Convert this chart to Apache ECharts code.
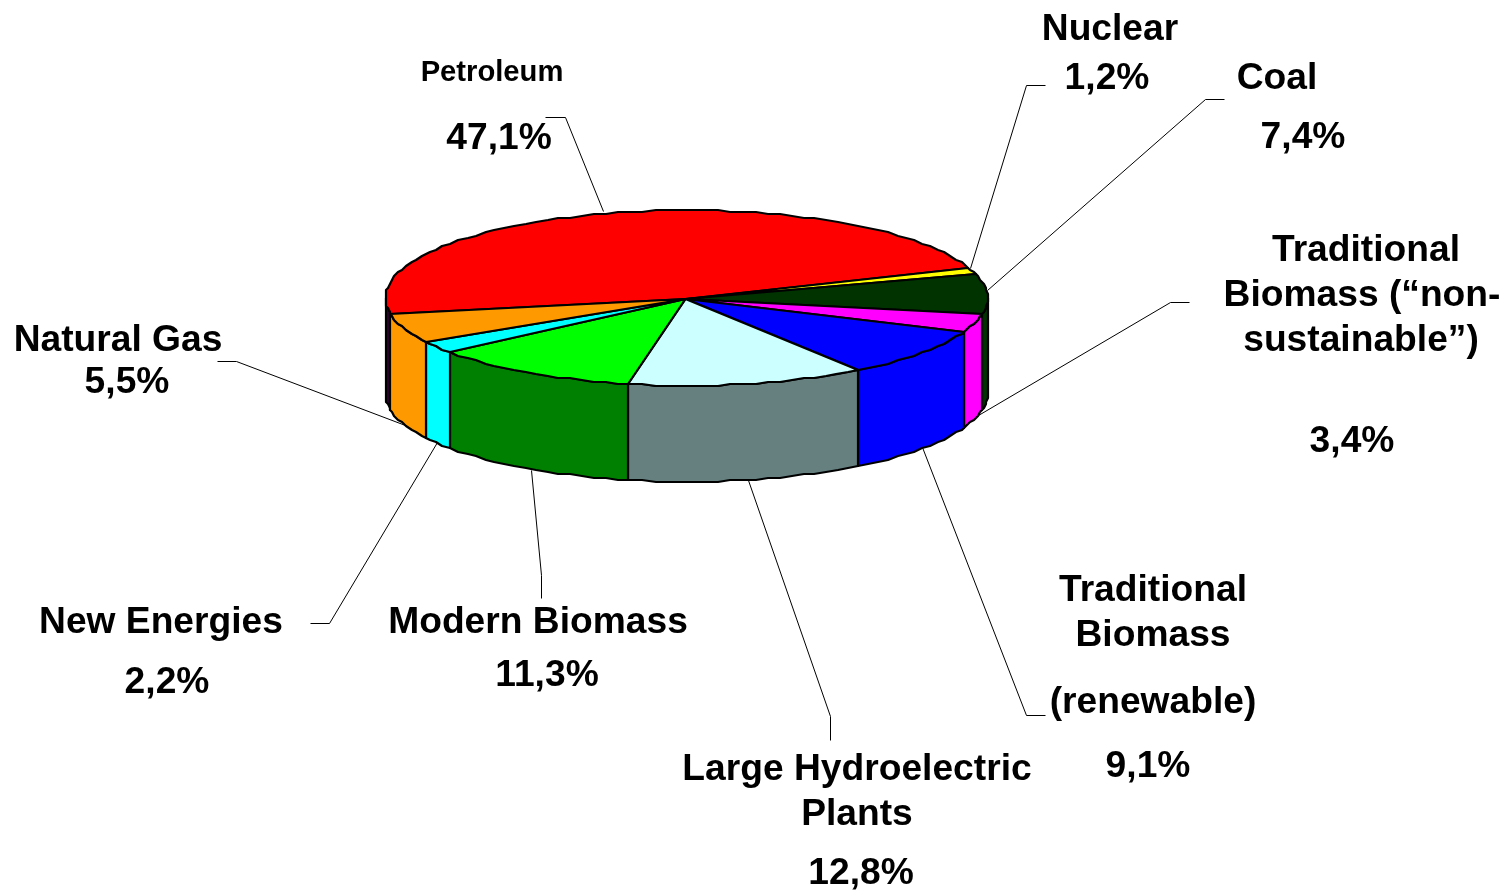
<!DOCTYPE html>
<html><head><meta charset="utf-8">
<style>html,body{margin:0;padding:0;background:#fff}#c{width:1506px;height:890px}</style>
<script src="https://cdn.jsdelivr.net/npm/echarts@6/dist/echarts.min.js"></script>
</head><body><div id="c"></div>
<script>
const categories = ['Petroleum','Nuclear','Coal','Traditional Biomass ("non-sustainable")','Traditional Biomass (renewable)','Large Hydroelectric Plants','Modern Biomass','New Energies','Natural Gas'];
const shares = [47.1,1.2,7.4,3.4,9.1,12.8,11.3,2.2,5.5];
const topColors = ['#FF0000','#FFFF00','#003300','#FF00FF','#0000FF','#CCFFFF','#00FF00','#00FFFF','#FF9900'];
const sideColors = ['#330033','#FFFF00','#003300','#FF00FF','#0000FF','#668080','#008000','#00FFFF','#FF9900'];
const labelLines = [
 ['Petroleum','47,1%'],['Nuclear','1,2%'],['Coal','7,4%'],
 ['Traditional','Biomass (“non-','sustainable”)','3,4%'],
 ['Traditional','Biomass','(renewable)','9,1%'],
 ['Large Hydroelectric','Plants','12,8%'],
 ['Modern Biomass','11,3%'],['New Energies','2,2%'],['Natural Gas','5,5%']
];
// layout only
const PIE = {cx:686.5, cy:298, rx:301, ry:87.5, depth:96, start:169.8, step:2.4, grid:2};
const labelPos = [
 [[492,73],[499,139]],[[1110,30],[1107,79]],[[1277,79],[1303,138]],
 [[1366,251],[1362,296],[1361,341],[1352,442]],
 [[1153,591],[1153,636],[1153,703],[1148,767]],
 [[857,770],[857,815],[861,874]],
 [[538,623],[547,676]],[[161,623],[167,683]],[[118,341],[127,383]]
];
const leaders = [
 [[603,211],[565,117],[545,117]],[[970,268],[1026,85],[1045,85]],[[987,290],[1205,99],[1224,99]],
 [[978,415],[1170,302],[1189,302]],[[922,447],[1026,715],[1045,715]],[[748,480],[830,716],[830,740]],
 [[531,470],[541,575],[541,598]],[[437,442],[329,623],[310,623]],[[405,425],[236,361],[217,361]]
];
const total = shares.reduce((a,b)=>a+b,0);
let acc = PIE.start;
const spans = shares.map(v=>{const s=acc; acc+=v/total*360; return [s,acc];});
const rows = spans.map((s,i)=>[s[0],s[1],i]);
function pt(deg,dz){
  const t=deg*Math.PI/180, g=PIE.grid;
  const x=PIE.cx+PIE.rx*Math.cos(t), y=PIE.cy+PIE.ry*Math.sin(t);
  return [Math.round(x/g)*g, Math.round(y/g)*g+dz];
}
function arcAngles(a,b){
  const out=[a];
  let k=Math.ceil(a/PIE.step+1e-6);
  while(k*PIE.step<b-1e-6){out.push(k*PIE.step);k++;}
  out.push(b);
  return out;
}
function renderTop(params,api){
  const a=api.value(0), b=api.value(1), i=api.value(2);
  const pts=[[PIE.cx-1,PIE.cy+1]].concat(arcAngles(a,b).map(d=>pt(d,0)));
  return {type:'polygon',shape:{points:pts},style:{fill:topColors[i],stroke:'#000',lineWidth:2.2,lineJoin:'round'},silent:true};
}
function sidePieces(a,b){
  const res=[];
  for(const off of [0,360,-360]){
    const l=Math.max(a+off,0), h=Math.min(b+off,180);
    if(l<h) res.push([l,h]);
  }
  return res;
}
function renderSide(params,api){
  const a=api.value(0), b=api.value(1), i=api.value(2);
  const kids=sidePieces(a,b).map(p=>{
    const ang=arcAngles(p[0],p[1]);
    const pts=ang.map(d=>pt(d,0)).concat(ang.slice().reverse().map(d=>pt(d,PIE.depth)));
    return {type:'polygon',shape:{points:pts},style:{fill:sideColors[i],stroke:'#000',lineWidth:2.2,lineJoin:'round'},silent:true};
  });
  return {type:'group',children:kids};
}
const graphics=[];
leaders.forEach(l=>graphics.push({type:'polyline',z:1,x:0.5,y:0.5,shape:{points:l},style:{fill:null,stroke:'#000',lineWidth:1},silent:true}));
labelLines.forEach((lines,i)=>lines.forEach((t,j)=>{
  graphics.push({type:'text',z:5,x:labelPos[i][j][0],y:labelPos[i][j][1],
    style:{text:t,fill:'#000',font:(i===0&&j===0?'bold 29.2px':'bold 37.2px')+' "Liberation Sans", Arial, sans-serif',textAlign:'center',textVerticalAlign:'middle'},silent:true});
}));
const chart=echarts.init(document.getElementById('c'),null,{width:1506,height:890});
chart.setOption({
  animation:false,
  backgroundColor:'#fff',
  tooltip:{show:false},
  graphic:{elements:graphics},
  series:[
    {type:'custom',name:'side',coordinateSystem:'none',z:2,data:rows,renderItem:renderSide,silent:true},
    {type:'custom',name:'top',coordinateSystem:'none',z:3,data:rows,renderItem:renderTop,silent:true}
  ]
});
</script></body></html>
